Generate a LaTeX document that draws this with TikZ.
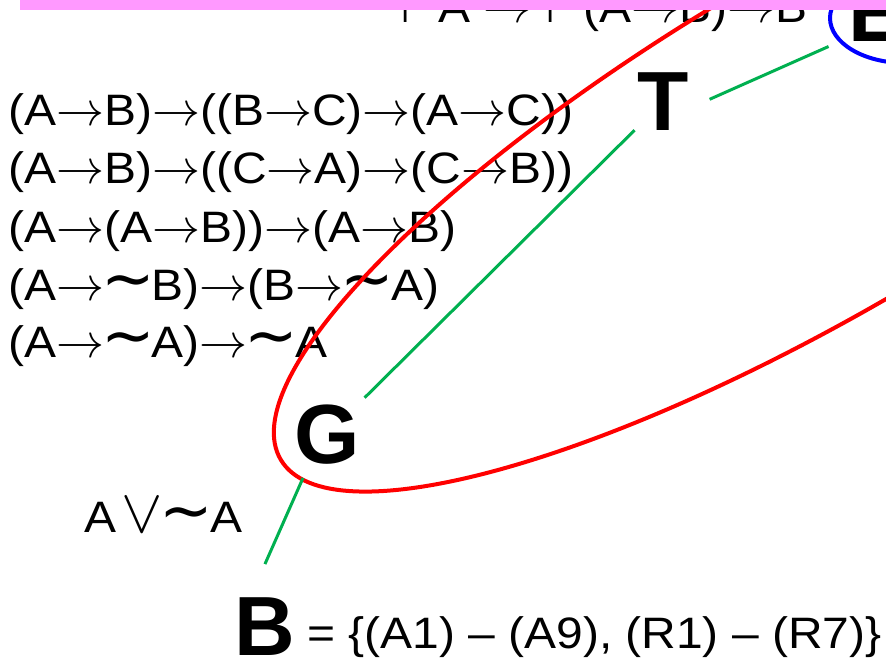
\RequirePackage{fix-cm}
\documentclass[tikz,border=0pt]{standalone}
\usepackage{fontspec}
\setmainfont{Liberation Sans}[FakeStretch=1.09]
\newfontfamily\letterfont{Liberation Sans}
\newfontfamily\logicfont{DejaVu Sans}
\definecolor{linkgreen}{RGB}{0,176,80}
\definecolor{hullred}{RGB}{255,0,0}
\definecolor{ringblue}{RGB}{0,0,255}
\definecolor{barpink}{RGB}{255,153,255}
\newcommand{\arr}{{\fontsize{48}{52}\selectfont$\rightarrow$}}
\newcommand{\sneg}{\hspace{-3pt}{\logicfont\fontsize{64}{70}\selectfont ∼}\hspace{-3pt}}
\newcommand{\sor}{{\fontsize{62}{66}\selectfont$\vee$}}
\newcommand{\sturn}{{\logicfont ⊢}}

\begin{document}
\begin{tikzpicture}[
        x=1pt, y=-1pt,
        formula/.style={anchor=base west, inner sep=0pt, font=\fontsize{44}{52}\selectfont},
        bigletter/.style={inner sep=0pt, font=\fontsize{84}{90}\selectfont\letterfont\bfseries},
        link/.style={draw=linkgreen, line width=3pt},
        hull/.style={draw=hullred, line width=4pt},
        ring/.style={draw=ringblue, line width=4pt},
    ]

    \useasboundingbox (0,0) rectangle (886,659);
    \clip (0,0) rectangle (886,659);

    \node (ax1)  [formula] at (8,125) {(A\arr B)\arr((B\arr C)\arr(A\arr C))};
    \node (ax2)  [formula] at ([yshift=-58pt]ax1.base west) {(A\arr B)\arr((C\arr A)\arr(C\arr B))};
    \node (ax3)  [formula] at ([yshift=-59pt]ax2.base west) {(A\arr(A\arr B))\arr(A\arr B)};
    \node (ax4)  [formula] at ([yshift=-58pt]ax3.base west) {(A\arr\sneg B)\arr(B\arr\sneg A)};
    \node (ax5)  [formula] at ([yshift=-57pt]ax4.base west) {(A\arr\sneg A)\arr\sneg A};
    \node (rule) [formula] at (400,22) {\sturn A \arr{} \sturn(A\arr B)\arr B};
    \node (lem)  [formula] at (84,532) {A\hspace{5pt}\sor\sneg A};

    \node (T) [bigletter] at (663,102) {T};
    \node (G) [bigletter] at (327,435) {G};
    \node (E) [bigletter] at (877,13)  {E};
    \node (B) [bigletter] at (265,627) {B};
    \node (Bset) [formula] at (307,648) {= \{(A1) – (A9), (R1) – (R7)\}};

    \draw [hull, rotate around={30.6:(823,139)}] (823,139) ellipse [x radius=630, y radius=170];
    \draw [ring] (905,18) ellipse [x radius=75, y radius=45];

    \draw [link, shorten <=37pt, shorten >=47pt] ([xshift=-15pt]B.north) -- ([xshift=-5pt]G.center);
    \draw [link, shorten <=53pt, shorten >=40pt] (G.center) -- (T.center);
    \draw [link, shorten <=51pt, shorten >=53pt] ([yshift=-18pt]T.center) -- ([yshift=-12pt]E.center);

    \fill [barpink] (20,0) rectangle (886,10);

\end{tikzpicture}
\end{document}
